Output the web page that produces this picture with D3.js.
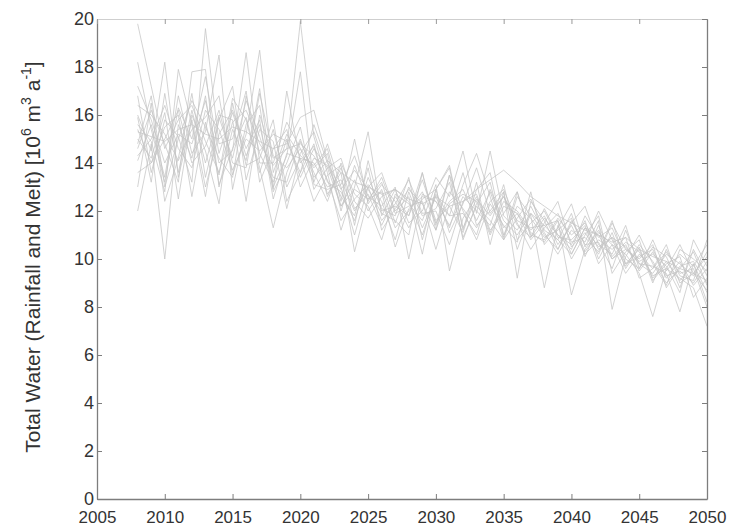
<!DOCTYPE html>
<html>
<head>
<meta charset="utf-8">
<script src="https://cdn.jsdelivr.net/npm/d3@7"></script>
<style>
  body { margin: 0; background: #fff; }
  svg text { font-family: "Liberation Sans", Arial, sans-serif; fill: #333; }
</style>
</head>
<body>
<div id="chart"></div>
<script>
// years of the ensemble runs
const years = d3.range(2008, 2051);

// x / y tick labels
const xTicks = [2005, 2010, 2015, 2020, 2025, 2030, 2035, 2040, 2045, 2050];
const yTicks = [0, 2, 4, 6, 8, 10, 12, 14, 16, 18, 20];

// ensemble members (10^6 m3/a), 2008..2050
const run01 = [19.8, 17.2, 14.6, 15.8, 16.4, 14.9, 13.6, 15.7, 16.2, 14.8,
  13.9, 14.6, 19.9, 15.1, 13.2, 12.8, 11.6, 13.4, 12.1, 11.8,
  13.4, 10.8, 12.9, 13.8, 11.2, 13.2, 10.6, 12.8, 10.4, 11.9,
  11.4, 10.8, 10.2, 11.3, 10.5, 10.9, 9.8, 10.4, 9.2, 9.9,
  9.1, 9.8, 8.6];
const run02 = [12.0, 14.8, 10.0, 15.6, 14.2, 16.8, 13.1, 14.6, 15.9, 13.8,
  11.3, 13.6, 15.0, 13.4, 14.1, 12.2, 13.3, 12.0, 12.9, 11.3,
  12.0, 12.8, 11.5, 12.4, 12.9, 11.6, 12.8, 11.3, 11.9, 11.1,
  10.7, 11.6, 8.5, 10.4, 11.2, 10.0, 10.6, 9.5, 10.3, 9.2,
  9.9, 8.9, 9.6];
const run03 = [18.2, 15.4, 13.2, 16.3, 15.0, 17.6, 14.4, 16.1, 14.3, 15.6,
  12.9, 17.0, 14.0, 14.7, 12.6, 13.8, 12.1, 12.7, 11.4, 12.6,
  11.8, 13.3, 11.6, 12.2, 11.1, 12.9, 13.6, 11.0, 12.2, 11.7,
  10.9, 11.2, 11.7, 10.3, 11.1, 10.6, 9.4, 10.2, 9.6, 10.6,
  9.0, 9.4, 10.1];
const run04 = [13.0, 16.5, 12.4, 14.2, 16.9, 13.4, 15.8, 17.2, 13.3, 15.4,
  14.9, 12.1, 14.4, 15.3, 13.6, 11.2, 13.0, 15.3, 11.8, 12.9,
  12.4, 11.0, 12.7, 11.8, 13.6, 11.4, 12.0, 12.8, 9.2, 12.4,
  11.6, 10.4, 11.5, 12.2, 10.6, 10.2, 11.4, 9.6, 10.5, 10.1,
  8.8, 10.4, 9.3];
const run05 = [16.4, 16.0, 15.2, 14.1, 15.4, 15.9, 16.8, 13.5, 15.2, 18.7,
  13.6, 15.2, 14.3, 13.9, 14.6, 12.4, 15.0, 12.3, 13.1, 12.4,
  11.3, 12.5, 12.9, 11.1, 12.3, 13.8, 11.9, 12.6, 11.4, 10.9,
  12.1, 11.0, 10.4, 11.8, 10.9, 11.3, 10.0, 9.6, 10.8, 9.5,
  10.2, 9.7, 10.6];
const run06 = [15.0, 14.2, 16.1, 12.5, 16.0, 14.5, 12.3, 16.5, 13.9, 14.2,
  15.8, 12.4, 13.6, 14.8, 12.7, 13.6, 10.3, 12.5, 13.2, 11.5,
  13.0, 11.8, 12.1, 13.2, 10.9, 12.2, 11.6, 10.8, 12.6, 11.8,
  8.8, 11.4, 10.0, 11.0, 11.8, 9.4, 10.3, 10.8, 9.1, 9.8,
  10.1, 8.4, 9.2];
const run07 = [14.1, 15.6, 13.4, 16.8, 14.4, 15.3, 18.5, 12.9, 15.6, 16.4,
  12.8, 14.0, 15.5, 12.9, 13.8, 14.2, 12.4, 11.7, 12.6, 12.9,
  11.5, 12.0, 13.4, 12.6, 14.5, 11.9, 14.5, 11.8, 11.2, 12.2,
  11.1, 10.2, 11.2, 10.7, 12.0, 10.8, 9.7, 10.6, 9.9, 9.0,
  9.6, 10.3, 8.9];
const run08 = [16.8, 13.6, 15.8, 15.1, 13.2, 19.6, 14.8, 15.0, 17.0, 13.2,
  14.6, 15.4, 13.0, 14.2, 13.9, 12.6, 11.8, 13.8, 11.2, 12.1,
  12.9, 12.3, 11.2, 12.8, 12.1, 11.3, 12.4, 12.9, 11.5, 10.4,
  11.3, 11.9, 10.7, 10.9, 10.3, 11.6, 9.8, 10.1, 10.4, 9.3,
  9.5, 9.0, 9.9];
const run09 = [15.6, 14.9, 12.8, 17.9, 15.6, 12.6, 15.9, 14.2, 16.6, 15.1,
  13.4, 13.2, 14.9, 13.6, 12.4, 14.0, 12.7, 12.2, 10.8, 12.7,
  12.3, 11.6, 13.1, 9.5, 11.7, 12.6, 11.1, 12.4, 12.0, 11.2,
  11.8, 10.6, 11.4, 10.2, 10.8, 10.4, 10.9, 9.2, 9.6, 10.3,
  9.4, 9.6, 8.0];
const run10 = [14.6, 16.2, 14.8, 13.2, 17.8, 17.9, 13.0, 15.4, 14.1, 17.1,
  13.0, 14.3, 17.8, 13.1, 12.9, 13.1, 14.3, 12.6, 12.2, 13.0,
  10.0, 12.7, 12.4, 11.4, 12.6, 12.0, 11.4, 13.1, 10.8, 11.5,
  12.0, 10.9, 10.8, 11.4, 9.8, 10.6, 10.2, 9.4, 7.6, 9.6,
  9.2, 8.8, 7.2];
const run11 = [14.3, 15.0, 16.4, 14.6, 13.8, 16.2, 15.4, 13.7, 15.0, 14.5,
  15.2, 14.9, 13.6, 15.6, 14.0, 12.9, 13.7, 12.9, 11.9, 11.6,
  11.0, 13.6, 11.2, 13.5, 10.8, 12.3, 13.2, 10.9, 12.8, 11.0,
  10.8, 11.7, 11.0, 11.5, 10.4, 10.9, 10.5, 9.8, 9.4, 10.2,
  9.8, 9.3, 10.3];
const run12 = [15.9, 13.2, 16.9, 13.6, 16.2, 14.0, 16.0, 15.8, 12.4, 16.0,
  14.2, 14.6, 14.8, 14.3, 13.3, 11.6, 12.5, 13.1, 12.4, 10.8,
  12.8, 11.3, 12.6, 11.3, 13.1, 14.4, 12.6, 10.8, 11.7, 12.5,
  11.2, 10.8, 11.9, 10.1, 11.4, 10.1, 10.7, 10.3, 9.3, 9.6,
  10.6, 9.4, 8.7];
const run13 = [15.3, 15.1, 14.9, 15.4, 15.6, 15.2, 15.0, 15.5, 15.3, 14.9,
  14.6, 14.8, 15.9, 16.2, 14.1, 13.6, 13.2, 13.0, 12.7, 12.9,
  12.5, 12.3, 12.6, 12.2, 12.4, 12.9, 13.3, 13.7, 13.2, 12.6,
  12.2, 11.8, 11.5, 11.2, 11.0, 10.7, 10.9, 10.4, 10.1, 9.9,
  9.6, 9.4, 9.1];
const run14 = [13.6, 14.0, 15.5, 16.0, 12.6, 15.7, 13.5, 16.7, 15.8, 13.6,
  15.4, 13.0, 14.2, 12.4, 13.5, 13.9, 11.4, 14.1, 12.0, 12.2,
  11.8, 13.6, 11.4, 13.5, 12.0, 10.8, 12.3, 11.4, 10.7, 12.8,
  10.6, 11.3, 12.3, 10.5, 11.6, 7.9, 10.1, 11.0, 9.8, 8.9,
  10.4, 10.0, 9.5];
const run15 = [17.2, 15.8, 14.0, 15.2, 14.8, 16.6, 14.0, 14.5, 18.6, 14.0,
  14.0, 15.7, 14.6, 13.8, 14.4, 12.0, 13.9, 12.4, 13.4, 11.9,
  12.2, 12.4, 10.4, 12.3, 12.7, 12.4, 11.0, 12.2, 11.9, 10.8,
  11.5, 12.4, 10.5, 11.1, 10.2, 11.5, 10.4, 9.9, 10.2, 9.7,
  8.6, 10.8, 9.7];
const run16 = [16.0, 14.5, 18.2, 13.4, 15.8, 13.0, 15.2, 16.2, 14.6, 15.8,
  12.5, 14.4, 14.2, 14.0, 13.0, 13.3, 12.0, 13.0, 11.6, 12.3,
  13.3, 11.9, 12.0, 10.6, 12.4, 12.7, 11.2, 11.9, 12.8, 10.9,
  11.7, 11.0, 10.6, 11.6, 10.0, 11.1, 9.6, 10.5, 9.0, 10.4,
  9.3, 9.1, 10.8];
const run17 = [14.8, 16.8, 13.0, 15.0, 16.6, 15.5, 14.2, 13.4, 16.8, 14.4,
  13.2, 15.0, 13.4, 14.6, 13.8, 12.2, 12.9, 12.5, 12.8, 10.5,
  12.1, 12.6, 12.4, 11.8, 11.9, 11.0, 12.9, 11.6, 11.0, 11.9,
  11.0, 10.4, 11.6, 10.6, 10.7, 9.6, 11.2, 9.8, 9.7, 9.4,
  7.8, 9.8, 8.2];
const run18 = [15.4, 14.0, 15.0, 16.2, 14.0, 14.7, 16.2, 14.0, 13.8, 16.9,
  14.3, 13.8, 14.6, 13.2, 14.8, 13.0, 11.0, 13.0, 13.6, 12.0,
  12.6, 10.2, 12.9, 13.9, 11.3, 12.5, 11.8, 12.6, 11.6, 11.3,
  11.4, 11.6, 10.2, 11.3, 11.0, 10.0, 10.4, 10.0, 10.6, 8.8,
  9.7, 9.9, 9.0];

const runs = [run01, run02, run03, run04, run05, run06, run07, run08, run09,
  run10, run11, run12, run13, run14, run15, run16, run17, run18];

const width = 736, height = 527;
const margin = { top: 19, right: 29, bottom: 28, left: 97 };
const innerW = width - margin.left - margin.right;
const innerH = height - margin.top - margin.bottom;

const svg = d3.select("#chart").append("svg")
    .attr("width", width)
    .attr("height", height);

const chart = svg.append("g")
    .attr("transform", `translate(${margin.left},${margin.top})`);

const x = d3.scaleLinear().domain([2005, 2050]).range([0, innerW]);
const y = d3.scaleLinear().domain([0, 20]).range([innerH, 0]);

// ensemble lines
const line = d3.line()
    .x((d, i) => x(years[i]))
    .y(d => y(d));

chart.selectAll(".run")
    .data(runs)
    .enter()
    .append("path")
    .attr("class", "run")
    .attr("d", d => line(d))
    .attr("fill", "none")
    .attr("stroke", "#c4c4c4")
    .attr("stroke-width", 1)
    .attr("stroke-opacity", 0.75);

// box axes, ticks pointing inward
const axisColor = "#7d7d7d";

const xAxis = chart.append("g")
    .attr("transform", `translate(0,${innerH})`)
    .call(d3.axisBottom(x).tickValues(xTicks).tickFormat(d3.format("d"))
        .tickSizeInner(-5).tickSizeOuter(0).tickPadding(12));

const yAxis = chart.append("g")
    .call(d3.axisLeft(y).tickValues(yTicks)
        .tickSizeInner(-5).tickSizeOuter(0).tickPadding(3));

const topAxis = chart.append("g")
    .call(d3.axisTop(x).tickValues(xTicks).tickFormat("")
        .tickSizeInner(-5).tickSizeOuter(0));

const rightAxis = chart.append("g")
    .attr("transform", `translate(${innerW},0)`)
    .call(d3.axisRight(y).tickValues(yTicks).tickFormat("")
        .tickSizeInner(-5).tickSizeOuter(0));

[xAxis, yAxis, rightAxis].forEach(a => {
    a.select(".domain").attr("stroke", axisColor).attr("stroke-width", 1.3);
    a.selectAll(".tick line").attr("stroke", axisColor);
});
topAxis.select(".domain").attr("stroke", "#cfcfcf");
topAxis.selectAll(".tick line").attr("stroke", "#9a9a9a");

xAxis.selectAll(".tick text")
    .attr("font-size", 17)
    .attr("fill", "#333");
yAxis.selectAll(".tick text")
    .attr("font-size", 18)
    .attr("fill", "#333");

// y axis title with superscripts
const ylab = svg.append("text")
    .attr("transform", `translate(40,${margin.top + innerH / 2 - 2}) rotate(-90)`)
    .attr("text-anchor", "middle")
    .attr("font-size", 21)
    .attr("fill", "#333");

ylab.append("tspan").text("Total Water (Rainfall and Melt) [10");
ylab.append("tspan").attr("font-size", 14).attr("dy", -9).text("6");
ylab.append("tspan").attr("dy", 9).text(" m");
ylab.append("tspan").attr("font-size", 14).attr("dy", -9).text("3");
ylab.append("tspan").attr("dy", 9).text(" a");
ylab.append("tspan").attr("font-size", 14).attr("dy", -9).text("-1");
ylab.append("tspan").attr("dy", 9).text("]");
</script>
</body>
</html>
